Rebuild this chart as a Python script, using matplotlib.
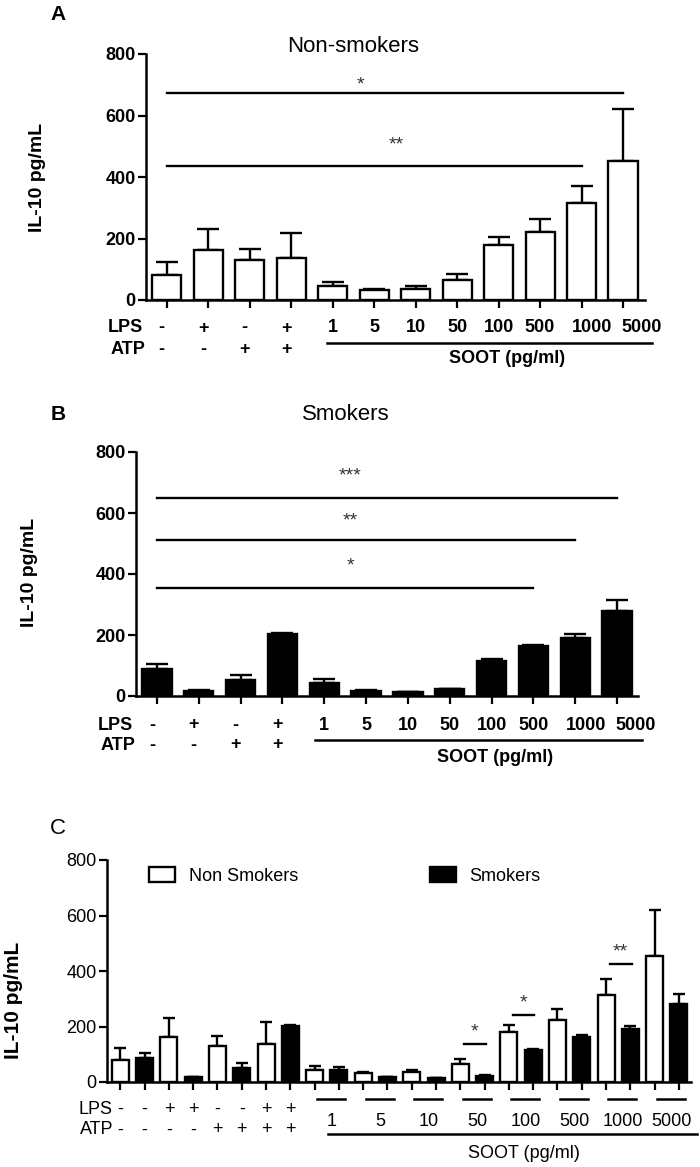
"""
IL-10 release after LPS/ATP and soot stimulation, non-smokers vs smokers.
"""
import matplotlib.pyplot as plt
import matplotlib.transforms as mtransforms
from matplotlib.patches import Patch
import numpy as np

plt.rcParams['font.family'] = ['Liberation Sans', 'DejaVu Sans']
NARROW = ['Liberation Sans Narrow', 'Liberation Sans', 'DejaVu Sans']

# ---- data -------------------------------------------------------------
lps = ['-', '+', '-', '+']
atp = ['-', '-', '+', '+']
soot = ['1', '5', '10', '50', '100', '500', '1000', '5000']

ns_mean = [80, 163, 129, 137, 45, 32, 36, 65, 179, 222, 315, 453]
ns_err = [42, 68, 38, 80, 14, 5, 8, 19, 26, 42, 55, 168]
s_mean = [87, 18, 51, 202, 42, 18, 13, 22, 115, 163, 190, 280]
s_err = [19, 1, 19, 5, 13, 1, 1, 2, 5, 5, 12, 36]

# significance: (first bar, last bar, line level, label, label x, label y)
sig_a = [(0, 11, 673, '*', 4.66, 700), (0, 10, 436, '**', 5.53, 505)]
sig_b = [(0, 11, 649, '***', 4.62, 722), (0, 10, 511, '**', 4.62, 575),
         (0, 9, 354, '*', 4.62, 427)]
# panel C: (group, line level, label)
sig_c = [(7, 137, '*'), (8, 241, '*'), (10, 425, '**')]

W, H = 700, 1167


def fx(px):
    return px / W


def fy(py):
    return 1 - py / H


def style(ax, lw=1.8):
    for s in ['top', 'right']:
        ax.spines[s].set_visible(False)
    ax.spines['left'].set_linewidth(lw)
    ax.spines['bottom'].set_linewidth(lw)
    ax.set_ylim(0, 800)
    ax.set_yticks([0, 200, 400, 600, 800])
    ax.tick_params(width=1.6, length=6, pad=1.5)


def bars(ax, pos, means, errs, color, width, cap):
    ax.bar(pos, means, width, color=color, edgecolor='black', linewidth=1.7,
           zorder=2)
    ax.errorbar(pos, means, yerr=[np.zeros(len(errs)), errs], fmt='none',
                ecolor='black', elinewidth=1.7, capsize=cap, capthick=1.7,
                zorder=1)


def sig_lines(ax, sig):
    for a, b, lev, lab, lx, ly in sig:
        ax.plot([a, b], [lev, lev], color='black', lw=1.7, clip_on=False)
        ax.text(lx, ly, lab, ha='center', va='center', fontsize=14,
                color='#333333')


def treatment_rows(fig, ax, y_lps, y_atp, x_lab, y_soot_line, soot_span,
                   x_soot_text, y_soot_text):
    tr = mtransforms.blended_transform_factory(ax.transData, fig.transFigure)
    kw = dict(fontsize=13, fontweight='bold')
    fig.text(fx(x_lab), fy(y_lps), 'LPS', ha='right', va='center', **kw)
    fig.text(fx(x_lab + 2), fy(y_atp), 'ATP', ha='right', va='center', **kw)
    for i, (l, a) in enumerate(zip(lps, atp)):
        ax.text(i - 0.12, fy(y_lps), l, transform=tr, ha='center',
                va='center', **kw)
        ax.text(i - 0.12, fy(y_atp), a, transform=tr, ha='center',
                va='center', **kw)
    shift = {'1000': 0.25, '5000': 0.45}
    for j, s in enumerate(soot):
        ax.text(4 + j + shift.get(s, 0), fy(y_lps), s, transform=tr,
                ha='center', va='center', **kw)
    ax.plot(soot_span, [fy(y_soot_line)] * 2, transform=tr, color='black',
            lw=1.8, clip_on=False)
    ax.text(x_soot_text, fy(y_soot_text), 'SOOT (pg/ml)', transform=tr,
            ha='center', va='center', **kw)


def main():
    fig = plt.figure(figsize=(W / 100, H / 100), dpi=100)
    pos12 = np.arange(len(ns_mean))

    # ---- A: non-smokers ----
    ax = fig.add_axes([fx(146), fy(300), (645 - 146) / W, 246 / H])
    style(ax)
    bars(ax, pos12, ns_mean, ns_err, 'white', 0.7, 8)
    ax.set_xlim(-0.5, 11.53)
    ax.set_xticks(pos12)
    ax.set_xticklabels([])
    ax.set_yticklabels(['0', '200', '400', '600', '800'], fontsize=13,
                       fontweight='bold')
    sig_lines(ax, sig_a)
    fig.text(fx(58), fy(14), 'A', fontsize=15, fontweight='bold',
             ha='center', va='center')
    fig.text(fx(353), fy(46), 'Non-smokers', fontsize=16, ha='center',
             va='center')
    fig.text(fx(38), fy(177), 'IL-10 pg/mL', rotation=90, fontsize=14,
             fontweight='bold', ha='center', va='center')
    treatment_rows(fig, ax, 328, 350, 143, 343, [3.86, 11.7], 8.2, 358)

    # ---- B: smokers ----
    ax = fig.add_axes([fx(136), fy(696), (638 - 136) / W, 244 / H])
    style(ax)
    bars(ax, pos12, s_mean, s_err, 'black', 0.7, 8)
    ax.set_xlim(-0.5, 11.5)
    ax.set_xticks(pos12)
    ax.set_xticklabels([])
    ax.set_yticklabels(['0', '200', '400', '600', '800'], fontsize=13,
                       fontweight='bold')
    sig_lines(ax, sig_b)
    fig.text(fx(58), fy(415), 'B', fontsize=15, fontweight='bold',
             ha='center', va='center')
    fig.text(fx(346), fy(415), 'Smokers', fontsize=16, ha='center',
             va='center')
    fig.text(fx(30), fy(572), 'IL-10 pg/mL', rotation=90, fontsize=14,
             fontweight='bold', ha='center', va='center')
    treatment_rows(fig, ax, 725, 745, 133, 740, [3.78, 11.6], 8.09, 757)

    # ---- C: both groups ----
    ax = fig.add_axes([fx(107), fy(1082), (691 - 107) / W, 222 / H])
    style(ax)
    ns_pos = pos12 * 2
    s_pos = pos12 * 2 + 1
    bars(ax, ns_pos, ns_mean, ns_err, 'white', 0.7, 4.5)
    bars(ax, s_pos, s_mean, s_err, 'black', 0.7, 4.5)
    ax.set_xlim(-0.55, 23.5)
    ax.set_xticks(np.arange(24))
    ax.set_xticklabels([])
    ax.set_yticklabels(['0', '200', '400', '600', '800'], fontsize=13,
                       family=NARROW)
    for g, lev, lab in sig_c:
        ax.plot([2 * g + 0.15, 2 * g + 1.05], [lev, lev], color='black',
                lw=1.7)
        ax.text(2 * g + 0.6, lev + 45, lab, ha='center', va='center',
                fontsize=14, color='#333333')

    handles = [Patch(facecolor='white', edgecolor='black', linewidth=1.7),
               Patch(facecolor='black', edgecolor='black', linewidth=1.7)]
    fig.legend(handles, ['Non Smokers', 'Smokers'], ncol=2, frameon=False,
               loc='center left', bbox_to_anchor=(fx(149), fy(876)),
               borderpad=0, borderaxespad=0, handlelength=1.45,
               handleheight=0.85, handletextpad=0.75, columnspacing=7.3,
               prop={'family': NARROW, 'size': 13})

    fig.text(fx(58), fy(829), 'C', fontsize=16, ha='center', va='center')
    fig.text(fx(14), fy(1000), 'IL-10 pg/mL', rotation=90, fontsize=15,
             fontweight='bold', ha='center', va='center')

    tr = mtransforms.blended_transform_factory(ax.transData, fig.transFigure)
    kw = dict(fontsize=13, family=NARROW)
    fig.text(fx(113), fy(1109), 'LPS', ha='right', va='center', **kw)
    fig.text(fx(113), fy(1130), 'ATP', ha='right', va='center', **kw)
    lps_c = np.repeat(lps, 2)
    atp_c = np.repeat(atp, 2)
    for i, (l, a) in enumerate(zip(lps_c, atp_c)):
        ax.text(i, fy(1109), l, transform=tr, ha='center', va='center', **kw)
        ax.text(i, fy(1130), a, transform=tr, ha='center', va='center', **kw)
    for j, s in enumerate(soot):
        g = 4 + j
        ax.plot([2 * g + 0.1, 2 * g + 1.25], [fy(1099)] * 2, transform=tr,
                color='black', lw=1.8, clip_on=False)
        ax.text(2 * g + 0.7, fy(1121), s, transform=tr, ha='center',
                va='center', **kw)
    ax.plot([8.56, 23.75], [fy(1134)] * 2, transform=tr, color='black',
            lw=1.8, clip_on=False)
    ax.text(16.6, fy(1153), 'SOOT (pg/ml)', transform=tr, ha='center',
            va='center', **kw)

    fig.savefig('out.png', dpi=100)


if __name__ == '__main__':
    main()
